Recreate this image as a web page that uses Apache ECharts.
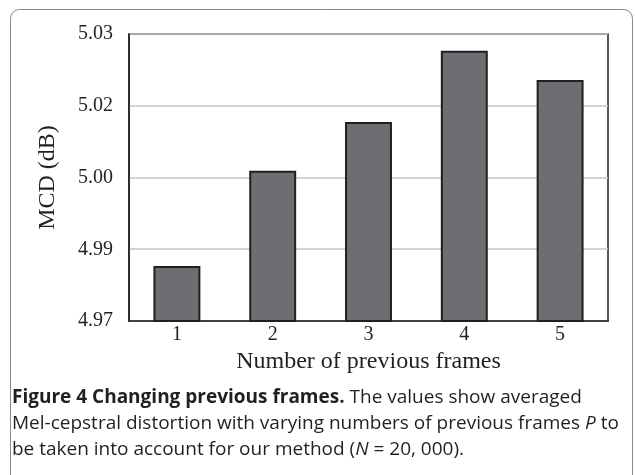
<!DOCTYPE html>
<html>
<head>
<meta charset="utf-8">
<script src="https://cdn.jsdelivr.net/npm/echarts@6/dist/echarts.min.js"></script>
<style>
  html, body { margin: 0; padding: 0; background: #fff; }
  #chart { width: 635px; height: 475px; }
</style>
</head>
<body>
<div id="chart"></div>
<script>
// Number of previous frames P
const categories = ['1', '2', '3', '4', '5'];
// Averaged Mel-cepstral distortion (dB)
const mcdValues = [4.9815, 5.0014, 5.0116, 5.0265, 5.0204];
// Y tick labels as printed (two decimals)
const yTickLabels = ['4.97', '4.99', '5.00', '5.02', '5.03'];

const serif = '"Liberation Serif", "DejaVu Serif", serif';
const sans = '"Open Sans", "Noto Sans", sans-serif';

const chart = echarts.init(document.getElementById('chart'));
chart.setOption({
  animation: false,
  backgroundColor: '#ffffff',
  grid: { left: 129, right: 27, top: 34, bottom: 154, show: true, borderColor: '#231f20', borderWidth: 1.5 },
  xAxis: {
    type: 'category',
    data: categories,
    name: 'Number of previous frames',
    nameLocation: 'middle',
    nameGap: 27,
    nameTextStyle: { fontFamily: serif, fontSize: 24, color: '#231f20' },
    axisLine: { lineStyle: { color: '#231f20', width: 1.5 } },
    axisTick: { show: false },
    axisLabel: { fontFamily: serif, fontSize: 20, color: '#231f20', margin: 4 }
  },
  yAxis: {
    type: 'value',
    min: 4.97,
    max: 5.03,
    interval: 0.015,
    name: 'MCD (dB)',
    nameLocation: 'middle',
    nameGap: 69,
    nameRotate: 90,
    nameTextStyle: { fontFamily: serif, fontSize: 24, color: '#231f20' },
    axisLine: { show: true, lineStyle: { color: '#231f20', width: 1.5 } },
    axisTick: { show: false },
    axisLabel: {
      fontFamily: serif, fontSize: 20, color: '#231f20', margin: 16,
      formatter: (v, i) => yTickLabels[i]
    },
    splitLine: { lineStyle: { color: '#c4c4c4', width: 1.5 } }
  },
  series: [{
    type: 'bar',
    data: mcdValues,
    barWidth: '49%',
    itemStyle: { color: '#6d6e71', borderColor: '#231f20', borderWidth: 2 }
  }],
  graphic: [
    {
      type: 'rect',
      shape: { x: 10.5, y: 9.5, width: 622, height: 520, r: 9 },
      style: { fill: 'none', stroke: '#8a8a8a', lineWidth: 1 },
      silent: true
    },
    {
      type: 'text',
      left: 12, top: 385,
      style: {
        text: '{b|Figure 4 Changing previous frames.} The values show averaged\nMel-cepstral distortion with varying numbers of previous frames {i|P} to\nbe taken into account for our method ({i|N} = 20, 000).',
        fontFamily: sans, fontSize: 19, fill: '#231f20', lineHeight: 26,
        rich: {
          b: { fontFamily: sans, fontSize: 19, fontWeight: 'bold', fill: '#231f20', lineHeight: 26 },
          i: { fontFamily: sans, fontSize: 19, fontStyle: 'italic', fill: '#231f20', lineHeight: 26 }
        }
      }
    }
  ]
});
</script>
</body>
</html>
